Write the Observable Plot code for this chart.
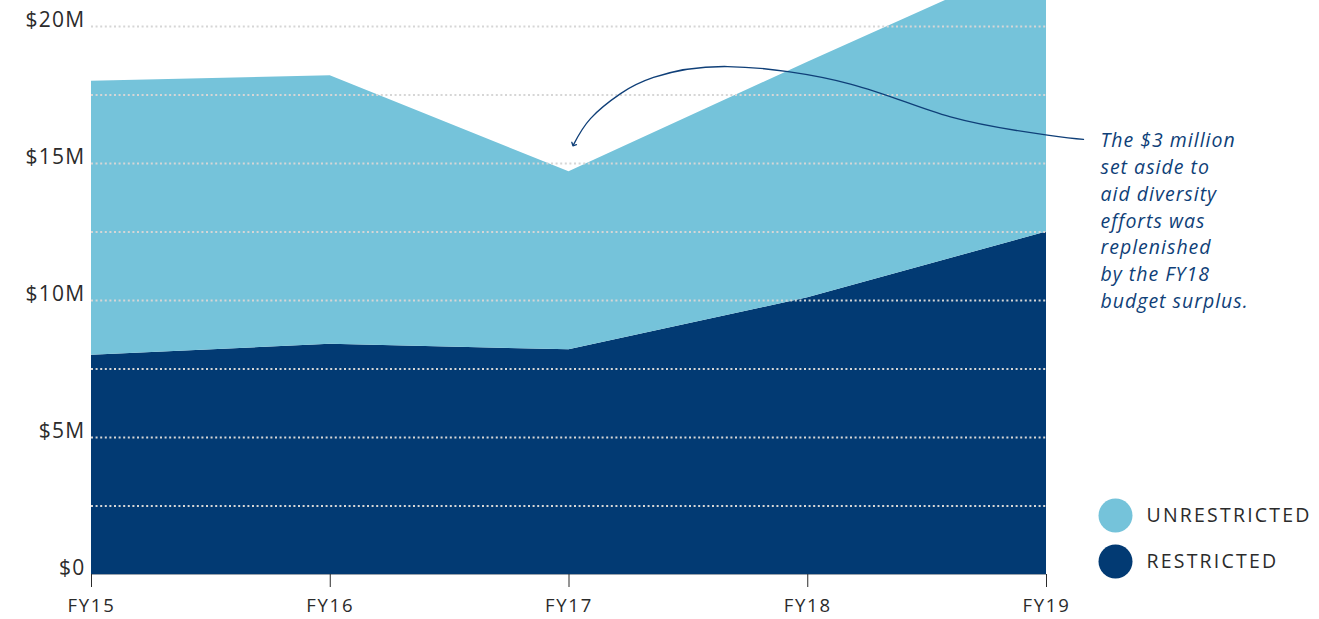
<!DOCTYPE html>
<html>
<head>
<meta charset="utf-8">
<script src="https://cdn.jsdelivr.net/npm/d3@7"></script>
<script src="https://cdn.jsdelivr.net/npm/@observablehq/plot@0.6"></script>
<style>
  html, body { margin: 0; padding: 0; background: #fff; }
  #chart svg { overflow: visible; display: block; }
  #chart svg g[aria-label="x-axis tick label"] { letter-spacing: 1.8px; }
  #chart svg g[aria-label="y-axis tick label"] { letter-spacing: 1.3px; }
  #chart svg g[aria-label="text"] { letter-spacing: 2.2px; }
  #chart svg g[aria-label="text"][font-style="italic"] { letter-spacing: 1px; }
</style>
</head>
<body>
<div id="chart"></div>
<script>
// ---- Data (values in $ millions) ----
const years = ["FY15", "FY16", "FY17", "FY18", "FY19"];
const restricted = [8.0, 8.4, 8.2, 10.1, 12.5];
const unrestricted = [10.0, 9.8, 6.5, 8.6, 10.1];
const seriesNames = ["Restricted", "Unrestricted"];
const legendLabels = ["UNRESTRICTED", "RESTRICTED"];
const legendSeries = ["Unrestricted", "Restricted"];
const yTicks = [0, 5, 10, 15, 20];
const gridValues = [2.5, 5, 7.5, 10, 12.5, 15, 17.5, 20];
const annotationText = "The $3 million\nset aside to\naid diversity\nefforts was\nreplenished\nby the FY18\nbudget surplus.";
// annotation arrow path in data units (x as fractional year index from FY15 = 0, y in $M)
const arrowPathX = [4.155, 4.004, 3.598, 3.179, 2.664, 2.354, 2.216, 2.090, 2.019];
const arrowPathY = [15.88, 16.04, 16.70, 17.90, 18.54, 18.14, 17.55, 16.64, 15.69];

const colors = {Restricted: "#023a73", Unrestricted: "#75c3da"};

const data = [];
years.forEach((yr, i) => {
  data.push({year: i, type: "Restricted", value: restricted[i]});
  data.push({year: i, type: "Unrestricted", value: unrestricted[i]});
});
const arrowPath = arrowPathX.map((x, i) => ({x, y: arrowPathY[i]}));

const font = "'Open Sans', Lato, sans-serif";
const ink = "#2b2b2b";
const navyText = "#0f3f78";
const legendRowDy = [-59, -13];

const legendMarks = legendSeries.flatMap((s, i) => [
  Plot.dot([s], {
    frameAnchor: "bottom-right", dx: 69, dy: legendRowDy[i],
    r: 17, stroke: null, fill: colors[s]
  }),
  Plot.text([legendLabels[i]], {
    frameAnchor: "bottom-right", dx: 100, dy: legendRowDy[i] + 6,
    textAnchor: "start", fill: ink, fontSize: 19.5
  })
]);

const chart = Plot.plot({
  width: 1319,
  height: 619,
  marginLeft: 91,
  marginRight: 273,
  marginTop: 0,
  marginBottom: 45,
  style: {fontFamily: font, fontSize: "19px", color: ink, background: "#fff"},
  x: {type: "linear", domain: [0, years.length - 1]},
  y: {domain: [0, 20.95]},
  color: {domain: seriesNames, range: seriesNames.map(d => colors[d])},
  marks: [
    Plot.areaY(data, {x: "year", y: "value", fill: "type", order: seriesNames, clip: true}),
    Plot.ruleY(gridValues, {stroke: "#d6d6d6", strokeWidth: 2, strokeDasharray: "2 2.6"}),
    Plot.ruleY([0], {stroke: "#9aa3ad", strokeWidth: 1}),
    Plot.axisX({
      ticks: d3.range(years.length),
      tickFormat: i => years[i],
      tickSize: 13, tickPadding: 11, stroke: ink, fill: ink,
      fontSize: 18.5
    }),
    Plot.axisY({
      ticks: yTicks,
      tickFormat: d => d === 0 ? "$0" : `$${d}M`,
      tickSize: 0, tickPadding: 6, dy: -6, fill: ink,
      fontSize: 21
    }),
    Plot.line(arrowPath, {
      x: "x", y: "y", curve: "natural",
      stroke: navyText, strokeWidth: 1.3, markerEnd: "arrow"
    }),
    Plot.text([annotationText], {
      frameAnchor: "top-right", dx: 54, dy: 128,
      textAnchor: "start", lineAnchor: "top", lineHeight: 1.37,
      fill: navyText, fontStyle: "italic", fontSize: 19.5
    }),
    ...legendMarks
  ]
});
document.getElementById("chart").append(chart);
</script>
</body>
</html>
